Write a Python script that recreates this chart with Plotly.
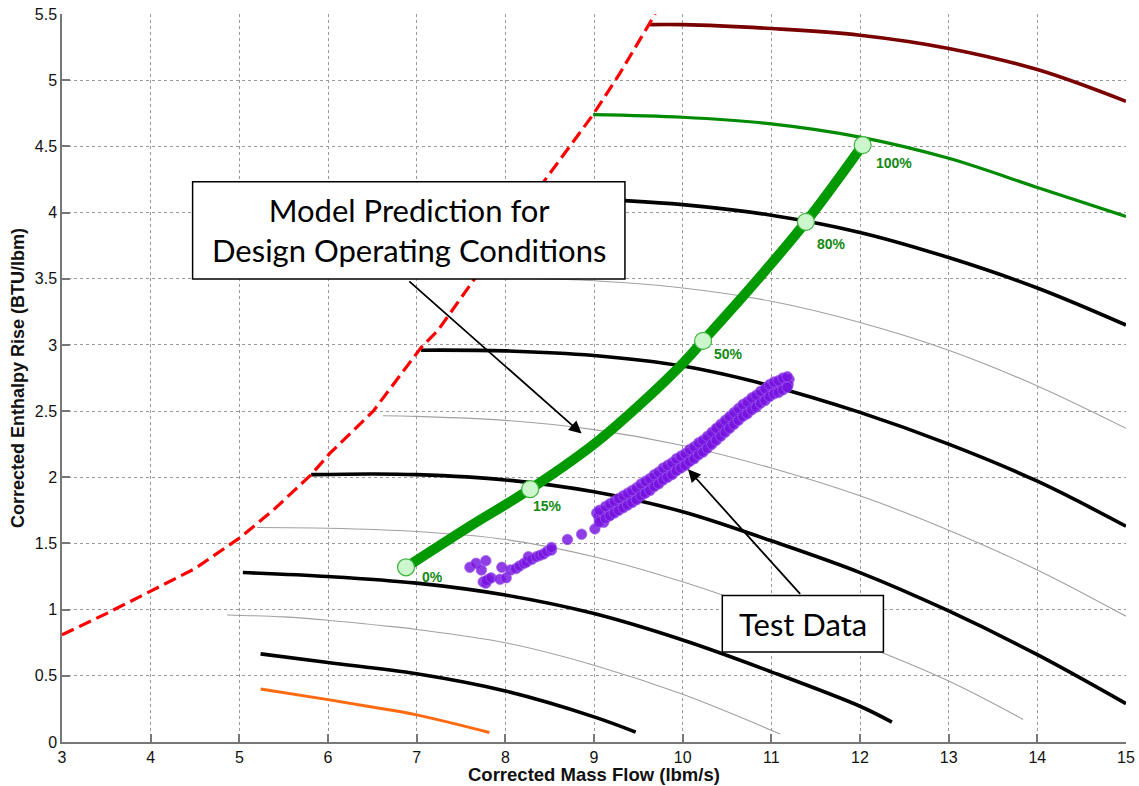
import plotly.graph_objects as go

# ---------------- data ----------------
surge_x = [3.0, 3.5, 4.0, 4.5, 5.0, 5.38, 5.81, 6.02, 6.51, 7.05, 7.24, 8.43, 8.99, 9.29, 9.69]
surge_y = [0.81, 0.97, 1.14, 1.31, 1.54, 1.75, 2.02, 2.18, 2.50, 2.98, 3.11, 4.23, 4.74, 5.05, 5.50]

orange_x = [5.24, 6.0, 6.58, 7.0, 7.82]
orange_y = [0.40, 0.32, 0.255, 0.205, 0.072]

black1_x = [5.24, 6.0, 7.0, 8.0, 9.0, 9.47]
black1_y = [0.666, 0.60, 0.515, 0.385, 0.19, 0.075]

gray1_x = [4.86, 5.5, 6.0, 6.6, 7.0, 8.0, 9.0, 10.0, 11.1]
gray1_y = [0.96, 0.945, 0.92, 0.88, 0.85, 0.75, 0.58, 0.36, 0.06]

black2_x = [5.04, 6.0, 7.0, 8.0, 9.0, 10.0, 11.0, 12.0, 12.36]
black2_y = [1.28, 1.25, 1.20, 1.11, 0.97, 0.77, 0.53, 0.27, 0.15]

gray2_x = [5.2, 6.0, 7.0, 8.0, 9.0, 10.0, 11.0, 12.0, 13.0, 13.84]
gray2_y = [1.62, 1.615, 1.59, 1.53, 1.40, 1.21, 0.98, 0.74, 0.46, 0.17]

black3_x = [5.81, 6.5, 7.0, 8.0, 9.0, 10.0, 11.0, 12.0, 13.0, 14.0, 15.0]
black3_y = [2.02, 2.025, 2.02, 1.98, 1.89, 1.74, 1.52, 1.28, 0.99, 0.66, 0.29]

gray3_x = [6.62, 7.0, 8.0, 9.0, 10.0, 11.0, 12.0, 13.0, 14.0, 15.0]
gray3_y = [2.465, 2.46, 2.43, 2.36, 2.24, 2.07, 1.86, 1.60, 1.30, 0.95]

black4_x = [7.05, 8.0, 9.0, 10.0, 11.0, 12.0, 13.0, 14.0, 15.0]
black4_y = [2.96, 2.955, 2.92, 2.84, 2.69, 2.49, 2.25, 1.97, 1.63]

gray4_x = [7.65, 8.84, 10.0, 11.0, 12.0, 13.0, 14.0, 15.0]
gray4_y = [3.51, 3.49, 3.43, 3.33, 3.17, 2.96, 2.69, 2.37]

black5_x = [8.29, 9.35, 10.0, 11.0, 12.0, 13.0, 14.0, 15.0]
black5_y = [4.12, 4.09, 4.06, 3.98, 3.85, 3.66, 3.43, 3.15]

green_x = [8.99, 10.0, 11.0, 12.0, 13.0, 14.0, 15.0]
green_y = [4.74, 4.72, 4.67, 4.57, 4.41, 4.19, 3.97]

darkred_x = [9.63, 10.0, 11.0, 12.0, 13.0, 14.0, 15.0]
darkred_y = [5.42, 5.42, 5.39, 5.34, 5.24, 5.08, 4.84]

op_x = [6.88, 7.6, 8.28, 9.0, 9.6, 10.0, 10.23, 10.75, 11.39, 12.03]
op_y = [1.32, 1.63, 1.91, 2.25, 2.60, 2.86, 3.03, 3.42, 3.93, 4.51]

pct_x = [6.88, 8.28, 10.23, 11.39, 12.03]
pct_y = [1.32, 1.91, 3.03, 3.93, 4.51]
pct_labels = ["0%", "15%", "50%", "80%", "100%"]

test_x = [7.60, 7.67, 7.78, 7.73, 7.75, 7.78, 7.81, 7.79, 7.84, 7.94, 7.96, 8.01, 8.06,
          8.12, 8.16, 8.21, 8.24, 8.26, 8.30, 8.35, 8.39, 8.43, 8.47, 8.52, 8.52,
          8.70, 8.86, 9.01, 9.11, 9.03, 9.06,
          9.05, 9.08, 9.10, 9.12, 9.15, 9.17, 9.20, 9.22, 9.25, 9.27, 9.30, 9.32,
          9.35, 9.37, 9.40, 9.42, 9.45, 9.47, 9.50, 9.52, 9.55, 9.57, 9.60, 9.62,
          9.65, 9.67, 9.70, 9.72, 9.75, 9.77, 9.80, 9.82, 9.85, 9.87, 9.90, 9.92,
          9.95, 9.97, 10.00, 10.02, 10.05, 10.07, 10.10, 10.12, 10.15, 10.17, 10.20,
          10.22, 10.25, 10.27, 10.30, 10.32, 10.35, 10.37, 10.40, 10.42, 10.45, 10.47,
          10.50, 10.52, 10.55, 10.57, 10.60, 10.62, 10.65, 10.67, 10.70, 10.72, 10.75,
          10.77, 10.80, 10.82, 10.85, 10.87, 10.90, 10.92, 10.95, 10.97, 11.00, 11.02,
          11.05, 11.07, 11.10, 11.12, 11.15, 11.17, 11.20, 11.19]
test_y = [1.32, 1.35, 1.37, 1.30, 1.21, 1.20, 1.23, 1.22, 1.24, 1.23, 1.32, 1.24, 1.30,
          1.31, 1.33, 1.35, 1.36, 1.40, 1.38, 1.40, 1.41, 1.42, 1.44, 1.45, 1.47,
          1.53, 1.57, 1.61, 1.66, 1.73, 1.68,
          1.71, 1.69, 1.74, 1.72, 1.75, 1.71, 1.78, 1.74, 1.79, 1.76, 1.82, 1.78,
          1.83, 1.80, 1.86, 1.82, 1.87, 1.84, 1.90, 1.87, 1.92, 1.89, 1.96, 1.92,
          1.97, 1.94, 2.00, 1.96, 2.01, 1.99, 2.05, 2.01, 2.06, 2.03, 2.09, 2.05,
          2.10, 2.08, 2.14, 2.10, 2.15, 2.12, 2.19, 2.15, 2.21, 2.18, 2.25,
          2.20, 2.27, 2.24, 2.30, 2.26, 2.33, 2.29, 2.37, 2.32, 2.39, 2.35,
          2.42, 2.38, 2.45, 2.41, 2.48, 2.44, 2.50, 2.47, 2.53, 2.49, 2.56,
          2.52, 2.59, 2.55, 2.61, 2.58, 2.63, 2.60, 2.66, 2.62, 2.68, 2.65,
          2.70, 2.67, 2.72, 2.69, 2.74, 2.71, 2.74, 2.70]

# outer edges of the dense test-data band
band_x = [9.06, 9.13, 9.18, 9.23, 9.28, 9.33, 9.38, 9.43, 9.48, 9.53, 9.58, 9.63, 9.68,
          9.73, 9.78, 9.83, 9.88, 9.93, 9.98, 10.03, 10.08, 10.13, 10.18, 10.23, 10.28,
          10.33, 10.38, 10.43, 10.48, 10.53, 10.58, 10.63, 10.68, 10.73, 10.78, 10.83,
          10.88, 10.93, 10.98, 11.03, 11.08, 11.13, 11.18]
band_upper = [1.75, 1.78, 1.80, 1.82, 1.84, 1.86, 1.88, 1.90, 1.92, 1.95, 1.97, 1.99, 2.02,
              2.04, 2.07, 2.09, 2.11, 2.14, 2.16, 2.18, 2.21, 2.23, 2.26, 2.28, 2.31,
              2.34, 2.37, 2.40, 2.43, 2.46, 2.49, 2.52, 2.55, 2.57, 2.60, 2.62,
              2.65, 2.67, 2.70, 2.72, 2.73, 2.75, 2.76]
band_lower = [1.66, 1.69, 1.71, 1.73, 1.75, 1.77, 1.79, 1.81, 1.83, 1.86, 1.88, 1.90, 1.93,
              1.95, 1.98, 2.00, 2.02, 2.05, 2.07, 2.09, 2.12, 2.14, 2.17, 2.19, 2.22,
              2.25, 2.28, 2.31, 2.34, 2.37, 2.40, 2.43, 2.46, 2.48, 2.51, 2.53,
              2.56, 2.58, 2.61, 2.63, 2.64, 2.66, 2.68]

x_ticks = [3, 4, 5, 6, 7, 8, 9, 10, 11, 12, 13, 14, 15]
y_ticks = [0, 0.5, 1, 1.5, 2, 2.5, 3, 3.5, 4, 4.5, 5, 5.5]
y_tick_text = ["0", "0.5", "1", "1.5", "2", "2.5", "3", "3.5", "4", "4.5", "5", "5.5"]

# ---------------- figure ----------------
fig = go.Figure()

def speed_line(xs, ys, color, width):
    fig.add_trace(go.Scatter(x=xs, y=ys, mode="lines",
                             line=dict(color=color, width=width, shape="spline", smoothing=1.0),
                             hoverinfo="skip", showlegend=False))

speed_line(gray1_x, gray1_y, "#a0a0a0", 1.1)
speed_line(gray2_x, gray2_y, "#a0a0a0", 1.1)
speed_line(gray3_x, gray3_y, "#a0a0a0", 1.1)
speed_line(gray4_x, gray4_y, "#a0a0a0", 1.1)
speed_line(orange_x, orange_y, "#ff6a10", 3)
speed_line(black1_x, black1_y, "#000000", 3.6)
speed_line(black2_x, black2_y, "#000000", 3.6)
speed_line(black3_x, black3_y, "#000000", 3.6)
speed_line(black4_x, black4_y, "#000000", 3.6)
speed_line(black5_x, black5_y, "#000000", 3.6)
speed_line(green_x, green_y, "#008a00", 3.2)
speed_line(darkred_x, darkred_y, "#7a0000", 3.6)

fig.add_trace(go.Scatter(x=surge_x, y=surge_y, mode="lines",
                         line=dict(color="#ff0000", width=3.2, dash="13px,6px"),
                         hoverinfo="skip", showlegend=False))

all_test_x = test_x + band_x + band_x
all_test_y = test_y + band_upper + band_lower
fig.add_trace(go.Scatter(x=all_test_x, y=all_test_y, mode="markers",
                         marker=dict(size=10.5, color="rgba(118,20,224,0.82)",
                                     line=dict(width=0.8, color="rgba(160,90,235,0.85)")),
                         hoverinfo="skip", showlegend=False))

fig.add_trace(go.Scatter(x=op_x, y=op_y, mode="lines",
                         line=dict(color="#009900", width=10, shape="spline", smoothing=1.0),
                         hoverinfo="skip", showlegend=False))
fig.add_trace(go.Scatter(x=pct_x, y=pct_y, mode="markers",
                         marker=dict(size=17, color="#ccf7cc", line=dict(width=1.2, color="#3cb43c")),
                         hoverinfo="skip", showlegend=False))

label_shift = [(14, -10), (1, -17), (9, -13), (9, -22), (11, -18)]
for xv, yv, t, (dx, dy) in zip(pct_x, pct_y, pct_labels, label_shift):
    fig.add_annotation(x=xv, y=yv, text="<b>%s</b>" % t, showarrow=False,
                       xanchor="left", yanchor="middle", xshift=dx, yshift=dy,
                       font=dict(family="Arial, Liberation Sans", size=14, color="#138a13"))

# annotation boxes
fig.add_shape(type="rect", xref="x", yref="y", x0=4.473, x1=9.349, y0=3.497, y1=4.232,
              line=dict(color="#000000", width=1.5), fillcolor="#ffffff", layer="above")
fig.add_annotation(x=(4.473 + 9.349) / 2, y=(3.497 + 4.232) / 2, xref="x", yref="y",
                   text="Model Prediction for<br>Design Operating Conditions",
                   showarrow=False, align="center",
                   font=dict(family="Lato", size=31, color="#000000"))
fig.add_shape(type="rect", xref="x", yref="y", x0=10.447, x1=12.264, y0=0.680, y1=1.107,
              line=dict(color="#000000", width=1.5), fillcolor="#ffffff", layer="above")
fig.add_annotation(x=(10.447 + 12.264) / 2, y=(0.680 + 1.107) / 2, xref="x", yref="y",
                   text="Test Data", showarrow=False,
                   font=dict(family="Lato", size=31, color="#000000"))

# arrows
fig.add_annotation(x=8.86, y=2.33, ax=6.9, ay=3.49, xref="x", yref="y", axref="x", ayref="y",
                   text="", showarrow=True, arrowhead=2, arrowsize=1.4, arrowwidth=1.8,
                   arrowcolor="#000000", standoff=0, startstandoff=0)
fig.add_annotation(x=10.06, y=2.06, ax=11.34, ay=1.107, xref="x", yref="y", axref="x", ayref="y",
                   text="", showarrow=True, arrowhead=2, arrowsize=1.4, arrowwidth=1.8,
                   arrowcolor="#000000", standoff=0, startstandoff=0)

# axis titles
fig.add_annotation(x=0.5, y=-0.045, xref="paper", yref="paper", yanchor="middle",
                   text="<b>Corrected Mass Flow (lbm/s)</b>", showarrow=False,
                   font=dict(family="Arial, Liberation Sans", size=18.5, color="#111111"))
fig.add_annotation(x=-0.0414, y=0.5, xref="paper", yref="paper", xanchor="center",
                   text="<b>Corrected Enthalpy Rise (BTU/lbm)</b>", showarrow=False, textangle=-90,
                   font=dict(family="Arial, Liberation Sans", size=18, color="#111111"))

fig.update_xaxes(range=[3, 15], tickvals=x_ticks, ticktext=[str(v) for v in x_ticks],
                 showgrid=True, gridcolor="#9a9a9a", griddash="dot", gridwidth=1,
                 showline=True, linecolor="#777777", linewidth=1.5, mirror=False,
                 ticks="inside", ticklen=8, tickcolor="#777777", tickwidth=1.5,
                 zeroline=False, automargin=False,
                 tickfont=dict(family="Arial, Liberation Sans", size=16, color="#111111"))
fig.update_yaxes(range=[0, 5.5], tickvals=y_ticks, ticktext=y_tick_text,
                 showgrid=True, gridcolor="#9a9a9a", griddash="dot", gridwidth=1,
                 showline=True, linecolor="#777777", linewidth=1.5, mirror=False,
                 ticks="inside", ticklen=8, tickcolor="#777777", tickwidth=1.5,
                 zeroline=False, automargin=False,
                 tickfont=dict(family="Arial, Liberation Sans", size=16, color="#111111"))

fig.update_layout(width=1139, height=786, margin=dict(l=62, r=13, t=14, b=44, autoexpand=False),
                  paper_bgcolor="#ffffff", plot_bgcolor="#ffffff", showlegend=False)

fig.write_html("out.html", config={"displayModeBar": False},
               post_script="document.body.style.margin='0px';document.body.style.overflow='hidden';")
